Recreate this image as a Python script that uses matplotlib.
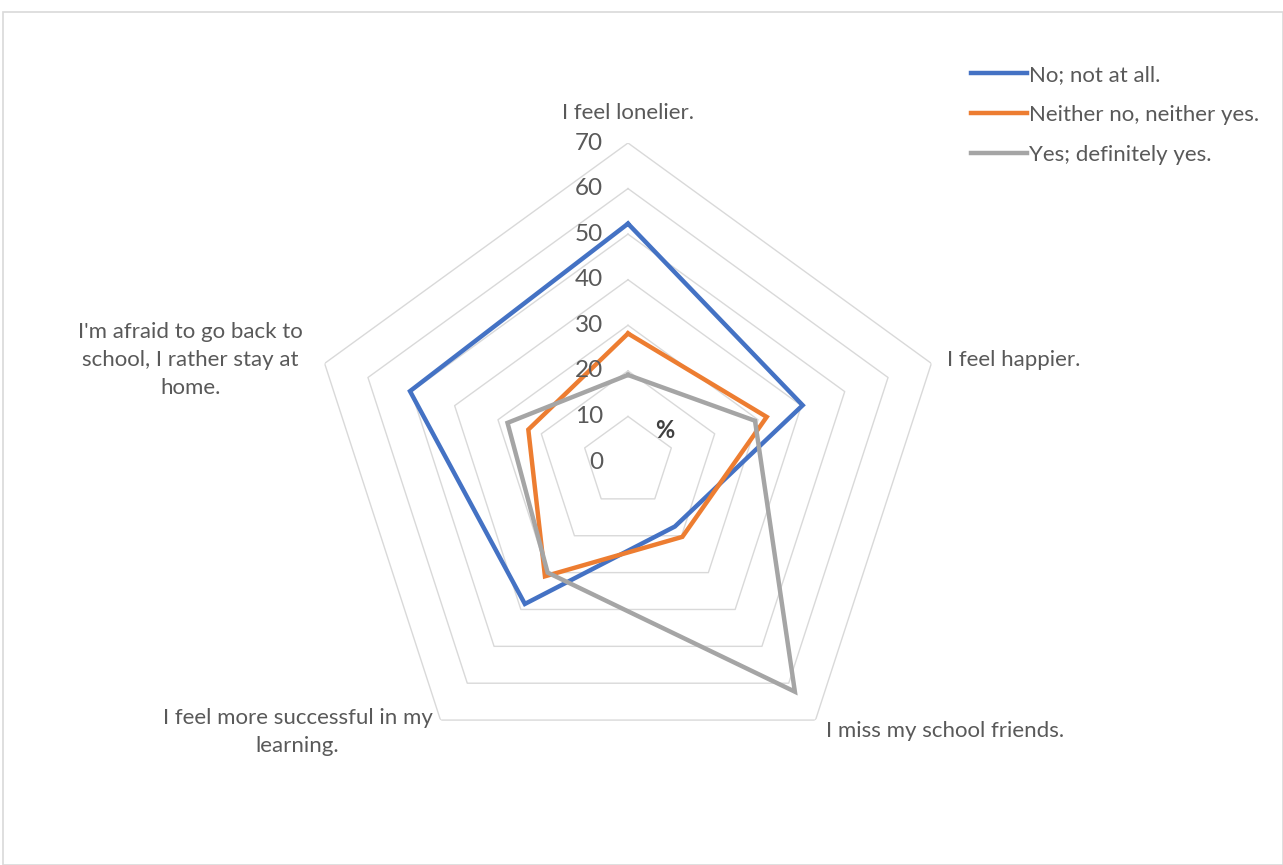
import numpy as np
import matplotlib
matplotlib.use("Agg")
from matplotlib import pyplot as plt
from matplotlib.transforms import offset_copy
from matplotlib.patches import Rectangle

plt.rcParams['font.family'] = ['Lato', 'DejaVu Sans']

categories = ["I feel lonelier.", "I feel happier.", "I miss my school friends.",
              "I feel more successful in my\nlearning.",
              "I'm afraid to go back to\nschool, I rather stay at\nhome."]
series_names = ["No; not at all.", "Neither no, neither yes.", "Yes; definitely yes."]
no_values = [52.3, 40.3, 17.5, 38.5, 50.3]
neither_values = [28.2, 32, 20.3, 31, 23]
yes_values = [19.1, 29.3, 62.3, 30, 27.8]
colors = ["#4472C4", "#ED7D31", "#A5A5A5"]
r_ticks = [0, 10, 20, 30, 40, 50, 60, 70]

fig = plt.figure(figsize=(12.83, 8.65), dpi=100)
fig.patches.append(Rectangle((3 / 1283, 0), 1 - 3 / 1283, 1 - 12 / 865, transform=fig.transFigure,
                             fill=False, edgecolor="#D9D9D9", linewidth=1.2))

ax = fig.add_axes([309 / 1283, 1 - 781 / 865, 638 / 1283, 638 / 865], projection='polar')
ax.set_theta_zero_location('N')
ax.set_theta_direction(-1)
ax.set_ylim(0, 70)
ax.grid(False)
ax.spines['polar'].set_visible(False)
ax.set_xticks([])
ax.set_yticks([])
ax.patch.set_alpha(0)

n = len(categories)
angles = np.linspace(0, 2 * np.pi, n, endpoint=False)
closed = np.append(angles, angles[0])

# polygon grid
for r in r_ticks[1:]:
    ax.plot(closed, [r] * (n + 1), color="#D9D9D9", lw=1.0, zorder=1)

for vals, c, name in zip([no_values, neither_values, yes_values], colors, series_names):
    ax.plot(closed, vals + vals[:1], color=c, lw=3.2, label=name, zorder=3,
            solid_joinstyle='miter')

# radial tick labels
for r in r_ticks:
    tr = offset_copy(ax.transData, fig=fig, x=-25, y=0, units='dots')
    ax.text(0, r, str(r), transform=tr, ha='right', va='center', fontsize=17.5,
            color="#595959")

# category labels
offsets = [(0, 30, 'center'), (16, 3, 'left'), (10, -11, 'left'),
           (-8, -12, 'right'), (-22, 3, 'right')]
for ang, lab, (dx, dy, ha) in zip(angles, categories, offsets):
    tr = offset_copy(ax.transData, fig=fig, x=dx, y=dy, units='dots')
    ax.text(ang, 70, lab, transform=tr, ha=ha, va='center', multialignment='center',
            fontsize=16, color="#595959", linespacing=1.5)

fig.text(665 / 1283, 1 - 430 / 865, "%", fontsize=17, fontweight='bold', color="#404040",
         ha='center', va='center')

leg = fig.legend(loc='upper left', bbox_to_anchor=(951 / 1283, 1 - 45 / 865), frameon=False,
                 fontsize=16, handlelength=2.5, handletextpad=0.1, labelspacing=0.9)
for t in leg.get_texts():
    t.set_color("#595959")

fig.savefig("out.png", dpi=100)
